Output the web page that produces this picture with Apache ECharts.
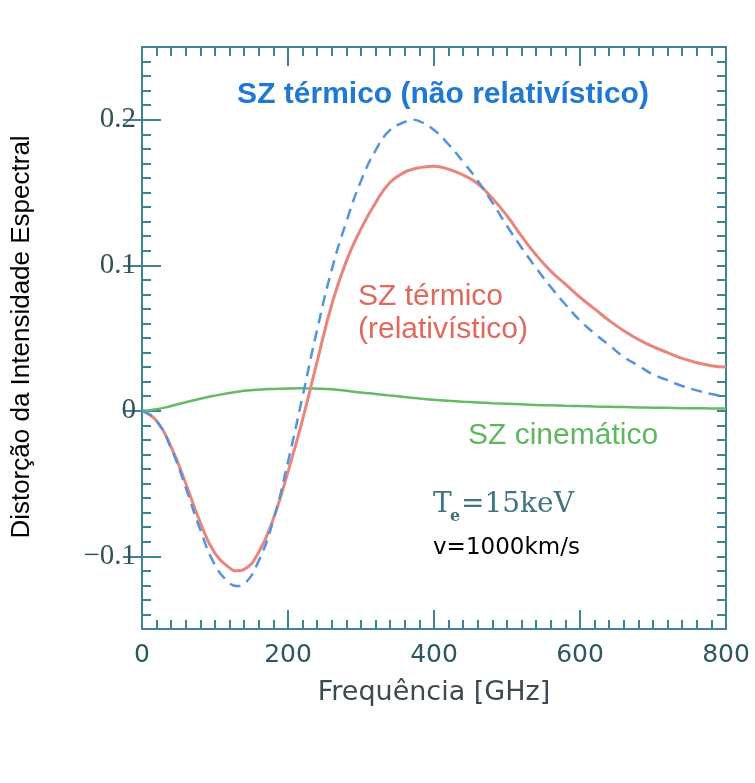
<!DOCTYPE html>
<html>
<head>
<meta charset="utf-8">
<script src="https://cdn.jsdelivr.net/npm/echarts@6/dist/echarts.min.js"></script>
<style>html,body{margin:0;padding:0;background:#fff}#chart{width:755px;height:783px}</style>
</head>
<body>
<div id="chart"></div>
<script>
// Frequency samples (GHz)
const freq = [0,20,40,60,80,100,120,130,140,160,180,200,220,240,260,280,300,320,340,360,370,380,400,420,440,460,480,500,520,540,560,580,600,620,640,660,680,700,720,740,760,780,800];
// SZ térmico (não relativístico) - dashed blue
const thermalNR = [0,-0.007,-0.026,-0.053,-0.082,-0.106,-0.1185,-0.1205,-0.119,-0.103,-0.075,-0.035,0.010,0.056,0.097,0.130,0.158,0.179,0.193,0.1985,0.200,0.199,0.193,0.183,0.171,0.158,0.143,0.127,0.112,0.098,0.085,0.073,0.062,0.053,0.045,0.037,0.031,0.025,0.021,0.017,0.014,0.0115,0.0095];
// SZ térmico (relativístico) - red
const thermalRel = [0,-0.007,-0.025,-0.050,-0.077,-0.098,-0.108,-0.110,-0.109,-0.097,-0.074,-0.042,-0.006,0.034,0.073,0.103,0.125,0.143,0.157,0.164,0.1658,0.167,0.168,0.166,0.162,0.156,0.146,0.134,0.120,0.107,0.096,0.087,0.078,0.070,0.062,0.055,0.049,0.044,0.040,0.036,0.033,0.031,0.030];
// SZ cinemático - green
const kinematic = [0,0.001,0.0033,0.0058,0.0083,0.0104,0.0122,0.0130,0.0137,0.0145,0.0150,0.0153,0.0154,0.0152,0.0147,0.0137,0.0125,0.0115,0.0104,0.0094,0.0089,0.0084,0.0075,0.0068,0.0062,0.0057,0.0052,0.0048,0.0044,0.0040,0.0037,0.0034,0.0032,0.0029,0.0027,0.0025,0.0023,0.0021,0.0020,0.0018,0.0017,0.0016,0.0016];
// Axis ticks
const xTickLabels = [0,200,400,600,800];
const yMajorTicks = [-0.1,0,0.1,0.2];

const axisColor = '#3d8394';
const pairs = arr => freq.map((f,i)=>[f, arr[i]]);

function fmtY(v){
  const r = Math.round(v*100);
  if (r % 10 !== 0) return '';
  const val = r/100;
  if (val === 0) return '0';
  return (val < 0 ? '\u2212' : '') + Math.abs(val).toFixed(1);
}

function xAxisCfg(pos, showLabel){
  return {
    type:'value', position:pos, min:xTickLabels[0], max:xTickLabels[xTickLabels.length-1], interval:200,
    axisLine:{show:true, onZero:false, lineStyle:{color:axisColor, width:2}},
    axisTick:{show:true, inside:true, length:19, lineStyle:{color:axisColor, width:2}},
    minorTick:{show:true, splitNumber:10, length:9, lineStyle:{color:axisColor, width:2}},
    splitLine:{show:false},
    axisLabel:{show:showLabel, fontFamily:'DejaVu Sans', fontSize:25, color:'#2e5761', margin:14},
    name: showLabel ? 'Frequência [GHz]' : '',
    nameLocation:'middle', nameGap:50,
    nameTextStyle:{fontFamily:'DejaVu Sans', fontSize:27, color:'#3a4a50'}
  };
}
function yMinorCfg(pos, showLabel){
  return {
    type:'value', position:pos, min:-0.15, max:0.25, interval:0.01,
    axisLine:{show:true, onZero:false, lineStyle:{color:axisColor, width:2}},
    axisTick:{show:true, inside:true, length:9, lineStyle:{color:axisColor, width:2}},
    splitLine:{show:false},
    axisLabel:{show:showLabel, formatter:fmtY, fontFamily:'Liberation Serif', fontSize:29, color:'#33525a', margin:6, showMinLabel:true, showMaxLabel:true}
  };
}
function yMajorCfg(pos){
  return {
    type:'value', position:pos, min:-0.15, max:0.25,
    axisLine:{show:false},
    axisTick:{show:true, inside:true, length:19, customValues:yMajorTicks, lineStyle:{color:axisColor, width:2}},
    splitLine:{show:false},
    axisLabel:{show:false}
  };
}

const chart = echarts.init(document.getElementById('chart'), null, {renderer:'canvas'});
chart.setOption({
  backgroundColor:'#ffffff',
  animation:false,
  grid:{left:142, right:29, top:47, bottom:154, containLabel:false},
  xAxis:[xAxisCfg('bottom', true), xAxisCfg('top', false)],
  yAxis:[yMinorCfg('left', true), yMajorCfg('left'), yMinorCfg('right', false), yMajorCfg('right')],
  series:[
    {type:'line', name:'SZ cinemático', data:pairs(kinematic), smooth:true, showSymbol:false, xAxisIndex:0, yAxisIndex:0,
     lineStyle:{color:'#66bb66', width:2.5}, z:2},
    {type:'line', name:'SZ térmico (relativístico)', data:pairs(thermalRel), smooth:true, showSymbol:false, xAxisIndex:0, yAxisIndex:0,
     lineStyle:{color:'#e8867c', width:3}, z:3},
    {type:'line', name:'SZ térmico (não relativístico)', data:pairs(thermalNR), smooth:true, showSymbol:false, xAxisIndex:0, yAxisIndex:0,
     lineStyle:{color:'#5393e0', width:2.5, type:[11,7]}, z:4}
  ],
  graphic:[
    {type:'text', x:22, y:337, rotation:Math.PI/2,
     style:{text:'Distorção da Intensidade Espectral', fontFamily:'Liberation Sans', fontSize:26, fill:'#000', textAlign:'center', textVerticalAlign:'middle'}},
    {type:'text', x:443, y:95,
     style:{text:'SZ térmico (não relativístico)', fontFamily:'Liberation Sans', fontWeight:'bold', fontSize:30, fill:'#1e78d4', textAlign:'center', textVerticalAlign:'middle'}},
    {type:'text', x:358, y:297,
     style:{text:'SZ térmico', fontFamily:'Liberation Sans', fontSize:30, fill:'#e0685c', textAlign:'left', textVerticalAlign:'middle'}},
    {type:'text', x:358, y:330,
     style:{text:'(relativístico)', fontFamily:'Liberation Sans', fontSize:30, fill:'#e0685c', textAlign:'left', textVerticalAlign:'middle'}},
    {type:'text', x:468, y:436,
     style:{text:'SZ cinemático', fontFamily:'Liberation Sans', fontSize:30, fill:'#5db85d', textAlign:'left', textVerticalAlign:'middle'}},
    {type:'text', x:433, y:505,
     style:{text:'T', fontFamily:'DejaVu Serif', fontSize:28, fill:'#3f7580', textAlign:'left', textVerticalAlign:'middle'}},
    {type:'text', x:450, y:517,
     style:{text:'e', fontFamily:'DejaVu Serif', fontWeight:'bold', fontSize:16, fill:'#3f7580', textAlign:'left', textVerticalAlign:'middle'}},
    {type:'text', x:461, y:505,
     style:{text:'=15keV', fontFamily:'DejaVu Serif', fontSize:28, fill:'#3f7580', textAlign:'left', textVerticalAlign:'middle'}},
    {type:'text', x:433, y:548,
     style:{text:'v=1000km/s', fontFamily:'DejaVu Sans', fontSize:23, fill:'#000', textAlign:'left', textVerticalAlign:'middle'}}
  ]
});
</script>
</body>
</html>
